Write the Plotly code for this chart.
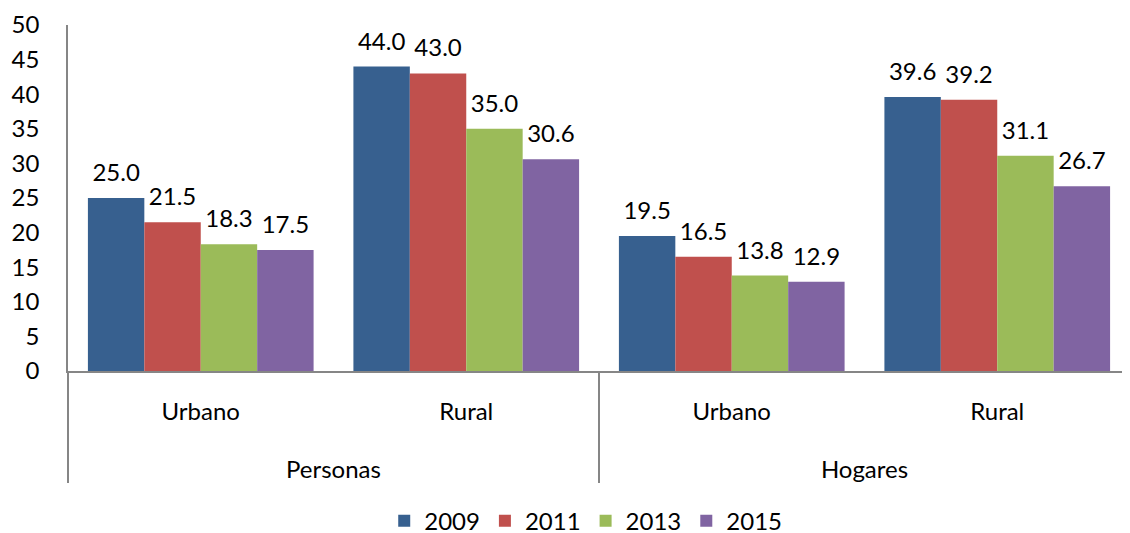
import plotly.graph_objects as go

groups = ["Personas", "Personas", "Hogares", "Hogares"]
areas = ["Urbano", "Rural", "Urbano", "Rural"]
years = ["2009", "2011", "2013", "2015"]
v2009 = [25.0, 44.0, 19.5, 39.6]
v2011 = [21.5, 43.0, 16.5, 39.2]
v2013 = [18.3, 35.0, 13.8, 31.1]
v2015 = [17.5, 30.6, 12.9, 26.7]
colors = ["#37608F", "#C0504D", "#9BBB59", "#8064A2"]
series = [v2009, v2011, v2013, v2015]

FONT = "Lato"
FS = 24
area_labels = [a + "<br><span style='font-size:62px'> </span>" for a in areas]

fig = go.Figure()
for name, vals, col in zip(years, series, colors):
    fig.add_trace(go.Bar(
        x=[groups, area_labels], y=vals, name=name, marker_color=col,
        marker_line_width=0, offsetgroup=name,
    ))
for name, vals in zip(years, series):
    fig.add_trace(go.Scatter(
        x=[groups, area_labels], y=vals, mode="markers+text",
        marker=dict(size=16, opacity=0), offsetgroup=name,
        text=[f"{v:.1f}" for v in vals], textposition="top center",
        textfont=dict(family=FONT, size=FS, color="#000"),
        showlegend=False, hoverinfo="skip", cliponaxis=False,
    ))

fig.update_layout(
    width=1122, height=541,
    margin=dict(l=60, r=0, t=17, b=178),
    paper_bgcolor="white", plot_bgcolor="white",
    barmode="group", bargap=0.15, bargroupgap=0,
    scattermode="group", scattergap=0.15,
    font=dict(family=FONT, size=FS, color="#000"),
    showlegend=True,
    legend=dict(orientation="h", x=0.4875, xanchor="center", y=-0.434, yanchor="middle",
                font=dict(family=FONT, size=FS), traceorder="normal"),
    xaxis=dict(showline=True, linecolor="#868686", linewidth=1.5,
               showdividers=True, dividercolor="#868686", dividerwidth=1.5,
               tickfont=dict(family=FONT, size=FS), ticks="", automargin=False,
               ticklabelstandoff=18),
    yaxis=dict(range=[0, 50], dtick=5, showgrid=False, zeroline=False,
               showline=True, linecolor="#868686", linewidth=1.5,
               tickfont=dict(family=FONT, size=FS), ticks="", automargin=False,
               ticklabelstandoff=22),
)
fig.write_html("out.html")
